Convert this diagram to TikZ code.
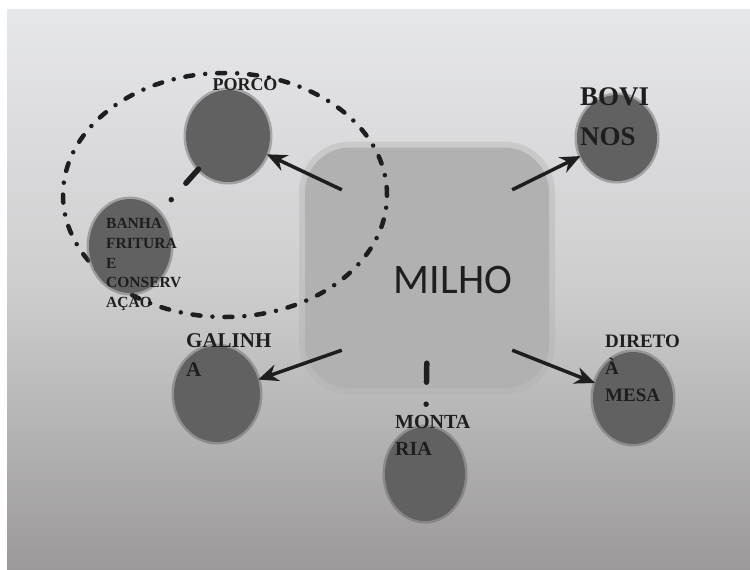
\documentclass[tikz,border=0pt]{standalone}
\usepackage{fontspec}
\setmainfont{Liberation Serif}
\newfontfamily\milhofont{Carlito}
\usetikzlibrary{arrows.meta, positioning, shapes.geometric}
\definecolor{pagetop}{RGB}{230,231,234}
\definecolor{pagemid}{RGB}{206,205,206}
\definecolor{pagebot}{RGB}{155,153,153}
\definecolor{boxgray}{RGB}{178,177,177}
\definecolor{blobgray}{RGB}{98,97,97}
\definecolor{inkdark}{RGB}{30,30,30}
\tikzset{
  blob/.style      = {ellipse, fill=blobgray, inner sep=0pt,
                      preaction={draw=blobgray, line width=5pt, draw opacity=0.45}},
  lbl/.style 2 args = {text=inkdark, align=left, inner sep=0pt,
                      font=\bfseries\fontsize{#1}{#2}\selectfont},
  arrow/.style     = {-{Stealth[length=20pt,width=17pt]}, line width=3.5pt, color=inkdark},
  dashlink/.style  = {line width=5.5pt, line cap=round, color=inkdark,
                      dash pattern=on 19pt off 22pt on 0pt off 200pt},
  ring/.style      = {ellipse, draw=inkdark, line width=4.5pt, line cap=round,
                      dash pattern=on 8pt off 12pt on 0pt off 12pt, inner sep=0pt},
}
\begin{document}
\begin{tikzpicture}[x=1pt, y=-1pt]
  \useasboundingbox (0,0) rectangle (750,570);
  % page
  \fill[white] (0,0) rectangle (750,570);
  \shade[top color=pagetop, bottom color=pagebot, middle color=pagemid] (7,9) rectangle (750,570);

  % centre
  \node[rounded corners=45pt, fill=boxgray, minimum width=244pt, minimum height=241pt,
        preaction={draw=boxgray, line width=12pt, draw opacity=0.4}] (milhobox) at (427,268) {};
  \node[minimum width=170pt, minimum height=160pt, inner sep=0pt] (hub) at (427,270) {};
  \node[font=\milhofont\fontsize{42}{50}\selectfont, text=inkdark, inner sep=0pt] (milho) at (453,280) {MILHO};

  % group round the pig
  \node[ring, minimum width=324pt, minimum height=244pt] (porcoring) at (225,195) {};

  \node[blob, minimum width=84pt, minimum height=92pt] (porco) at (228,136) {};
  \node[blob, minimum width=82pt, minimum height=94pt] (banha) at (130,246) {};
  \node[blob, minimum width=80pt, minimum height=86pt] (bovinos) at (617,138) {};
  \node[blob, minimum width=86pt, minimum height=96pt] (galinha) at (217,394) {};
  \node[blob, minimum width=80pt, minimum height=94pt] (montaria) at (425,474) {};
  \node[blob, minimum width=80pt, minimum height=92pt] (direto) at (633,398) {};

  \node[lbl={18}{22}, anchor=north] (porcotxt) at (245,78) {PORCO};
  \node[lbl={15.5}{19.8}, anchor=north west] (banhatxt) at (106,218) {BANHA\\FRITURA\\E\\CONSERV\\AÇÃO};
  \node[lbl={27}{40}, anchor=north west] (bovinostxt) at (580,87) {BOVI\\NOS};
  \node[lbl={21}{29}, anchor=north west] (galinhatxt) at (186,333) {GALINH\\A};
  \node[lbl={20}{27}, anchor=north west] (montariatxt) at (395,415) {MONTA\\RIA};
  \node[lbl={19}{27}, anchor=north west] (diretotxt) at (605,335) {DIRETO\\À\\MESA};

  % connectors
  \draw[arrow] (hub.north west) -- (porco);
  \draw[arrow] (hub.north east) -- (bovinos);
  \draw[arrow] (hub.south west) -- (galinha);
  \draw[arrow] (hub.south east) -- (direto);
  \draw[dashlink, shorten <=13pt] (hub.south) -- (montaria);
  \draw[dashlink] (porco) -- (banha);
\end{tikzpicture}
\end{document}
